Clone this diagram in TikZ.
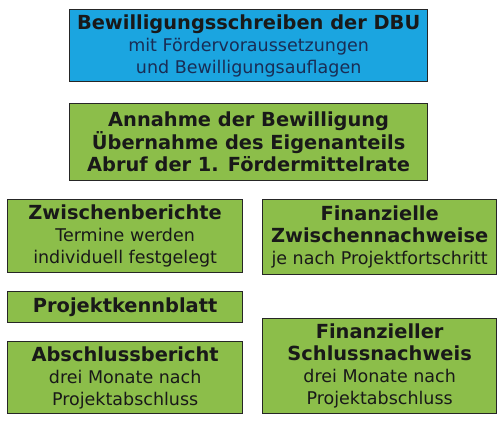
\documentclass[tikz,border=0pt]{standalone}
\usepackage{fontspec}
\setmainfont{DejaVu Sans}
\definecolor{dbublue}{RGB}{27,165,224}
\definecolor{dbugreen}{RGB}{140,190,74}
\definecolor{subnavy}{RGB}{25,45,85}
\newcommand{\hd}[1]{{\fontsize{19.4}{22.5}\selectfont\bfseries #1}}
\newcommand{\sub}[1]{{\fontsize{17.5}{21.5}\selectfont #1}}
\begin{document}
\begin{tikzpicture}[x=1pt, y=-1pt, line width=1.3pt]
   \useasboundingbox (0,0) rectangle (500,421);
   \begin{scope}[every node/.style={draw=black!85, fill=dbugreen, anchor=north west, align=center, inner sep=0pt,
       text=black!90, font=\fontsize{17}{22}\selectfont}]
    \node[fill=dbublue, minimum width=358pt, minimum height=72pt] (bescheid) at (69,9)
      {\hd{Bewilligungsschreiben der DBU}\\ \color{subnavy}\sub{mit Fördervoraussetzungen}\\ \color{subnavy}\sub{und Bewilligungsauflagen}};
    \node[minimum width=358pt, minimum height=77pt] (annahme) at (69,103)
      {\hd{Annahme der Bewilligung}\\ \hd{Übernahme des Eigenanteils}\\ \hd{Abruf der 1. Fördermittelrate}};
    \node[minimum width=235pt, minimum height=73pt] (zwischen) at (7,199)
      {\hd{Zwischenberichte}\\ \sub{Termine werden}\\ \sub{individuell festgelegt}};
    \node[minimum width=234pt, minimum height=75pt] (finzw) at (262,199)
      {\hd{Finanzielle}\\ \hd{Zwischennachweise}\\ \sub{je nach Projektfortschritt}};
    \node[minimum width=235pt, minimum height=31pt] (kennblatt) at (7,291)
      {\hd{Projektkennblatt}};
    \node[minimum width=235pt, minimum height=72pt] (abschluss) at (7,341)
      {\hd{Abschlussbericht}\\ \sub{drei Monate nach}\\ \sub{Projektabschluss}};
    \node[minimum width=234pt, minimum height=95pt] (finschluss) at (262,318)
      {\hd{Finanzieller}\\ \hd{Schlussnachweis}\\ \sub{drei Monate nach}\\ \sub{Projektabschluss}};
   \end{scope}
\end{tikzpicture}
\end{document}
